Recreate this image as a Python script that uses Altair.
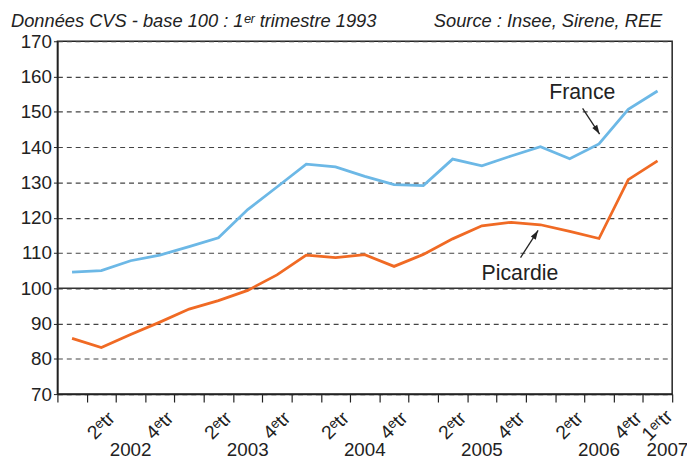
import altair as alt
import pandas as pd

# ---- data ----
quarters = list(range(21))  # 2002 T1 ... 2007 T1
france = [104.6, 105.0, 107.8, 109.4, 111.8, 114.3, 122.3, 128.7, 135.2, 134.4,
          131.7, 129.4, 129.1, 136.6, 134.7, 137.5, 140.1, 136.7, 140.9, 150.7, 155.9]
picardie = [85.8, 83.2, 86.9, 90.4, 94.1, 96.5, 99.4, 103.8, 109.4, 108.7,
            109.5, 106.2, 109.6, 114.0, 117.7, 118.7, 118.0, 116.1, 114.1, 130.8, 136.1]
quarter_labels = ["", "2ᵉtr", "", "4ᵉtr"] * 5 + ["1ᵉʳtr"]
years = ["2002", "2003", "2004", "2005", "2006"]
last_year = "2007"
y_ticks = list(range(70, 171, 10))
title_left = "Données CVS - base 100 : 1ᵉʳ trimestre 1993"
title_right = "Source : Insee, Sirene, REE"

# annotations (data coordinates: quarter index, value)
ann_text = pd.DataFrame({"label": ["France", "Picardie"],
                         "x": [17.93, 15.8], "y": [155.2, 104.0]})
ann_arrow = pd.DataFrame({"x": [17.94, 15.82], "y": [151.0, 108.7],
                          "x2": [18.52, 16.42], "y2": [143.7, 116.4],
                          "ang": [148, 32]})

FONT = "Liberation Sans, Arial, sans-serif"
BLUE = "#6CB8E6"
ORANGE = "#F06A24"
INK = "#222222"

W, H = 622, 357

rows = []
for i in quarters:
    rows.append({"x": i + 0.5, "y": france[i], "serie": "France"})
    rows.append({"x": i + 0.5, "y": picardie[i], "serie": "Picardie"})
df = pd.DataFrame(rows)

xs = alt.Scale(domain=[0, 21], nice=False, zero=False)
ys = alt.Scale(domain=[70, 170], nice=False, zero=False)

x_axis = alt.Axis(values=list(range(22)), labels=False, ticks=True, tickSize=8,
                  tickColor=INK, tickWidth=1.2, domainColor=INK, domainWidth=1.5,
                  grid=False, title=None)
y_axis = alt.Axis(values=y_ticks, grid=True, gridDash=[5, 4], gridColor="#444",
                  gridWidth=1.2, labelFont=FONT, labelFontSize=19, labelColor=INK,
                  labelPadding=2, tickSize=4, tickColor=INK, domainColor=INK,
                  domainWidth=1.5, title=None)

def X(field="x"):
    return alt.X(f"{field}:Q", scale=xs, axis=x_axis)

def Y(field="y"):
    return alt.Y(f"{field}:Q", scale=ys, axis=y_axis)

lines = alt.Chart(df).mark_line(strokeWidth=2.8).encode(
    x=X(), y=Y(),
    color=alt.Color("serie:N", scale=alt.Scale(domain=["France", "Picardie"],
                                                range=[BLUE, ORANGE]), legend=None),
)

base100 = alt.Chart(pd.DataFrame({"y": [100]})).mark_rule(
    color="#333", strokeWidth=1.6).encode(y=Y())

ann_t = alt.Chart(ann_text).mark_text(font=FONT, fontSize=21.5, color=INK,
                                      align="center", baseline="middle").encode(
    x=X(), y=Y(), text="label:N")

ann_r = alt.Chart(ann_arrow).mark_rule(color=INK, strokeWidth=1.3).encode(
    x=X(), y=Y(), x2="x2:Q", y2="y2:Q")

ann_h = alt.Chart(ann_arrow).mark_point(
    shape="M0,0L0.7,2.2L-0.7,2.2Z", filled=True, opacity=1, color=INK, size=70
).encode(x=alt.X("x2:Q", scale=xs, axis=x_axis), y=alt.Y("y2:Q", scale=ys, axis=y_axis),
         angle=alt.Angle("ang:Q", scale=None))

ql = pd.DataFrame({"x": [i + 0.5 for i in quarters], "t": quarter_labels})
ql = ql[ql["t"] != ""]
q_labels = alt.Chart(ql).mark_text(font=FONT, fontSize=19.5, color=INK, angle=315,
                                   align="center", baseline="middle").encode(
    x=X(), y=alt.value(H + 32), text="t:N")

yl = pd.DataFrame({"x": [4 * k + 2.5 for k in range(len(years))], "t": years})
y_labels = alt.Chart(yl).mark_text(font=FONT, fontSize=19, color=INK,
                                   align="center", baseline="alphabetic").encode(
    x=X(), y=alt.value(H + 63), text="t:N")
y_last = alt.Chart(pd.DataFrame({"x": [20.5], "t": [last_year]})).mark_text(
    font=FONT, fontSize=19, color=INK, align="center", baseline="alphabetic", dx=10
).encode(x=X(), y=alt.value(H + 63), text="t:N")

t_left = alt.Chart(pd.DataFrame({"t": [title_left]})).mark_text(
    font=FONT, fontSize=18.5, fontStyle="italic", color=INK, align="left",
    baseline="alphabetic").encode(x=alt.value(-47), y=alt.value(-14), text="t:N")
t_right = alt.Chart(pd.DataFrame({"t": [title_right]})).mark_text(
    font=FONT, fontSize=18.5, fontStyle="italic", color=INK, align="right",
    baseline="alphabetic").encode(x=alt.value(W - 10), y=alt.value(-14), text="t:N")

chart = alt.layer(base100, lines, ann_r, ann_h, ann_t, q_labels, y_labels, y_last,
                  t_left, t_right).properties(
    width=W, height=H,
    autosize=alt.AutoSizeParams(type="none"),
    padding={"left": 50, "top": 31, "right": 15, "bottom": 64},
    background="white",
).configure_view(stroke=INK, strokeWidth=1.5)

chart.save("out.html", embed_options={"renderer": "svg", "actions": False})
